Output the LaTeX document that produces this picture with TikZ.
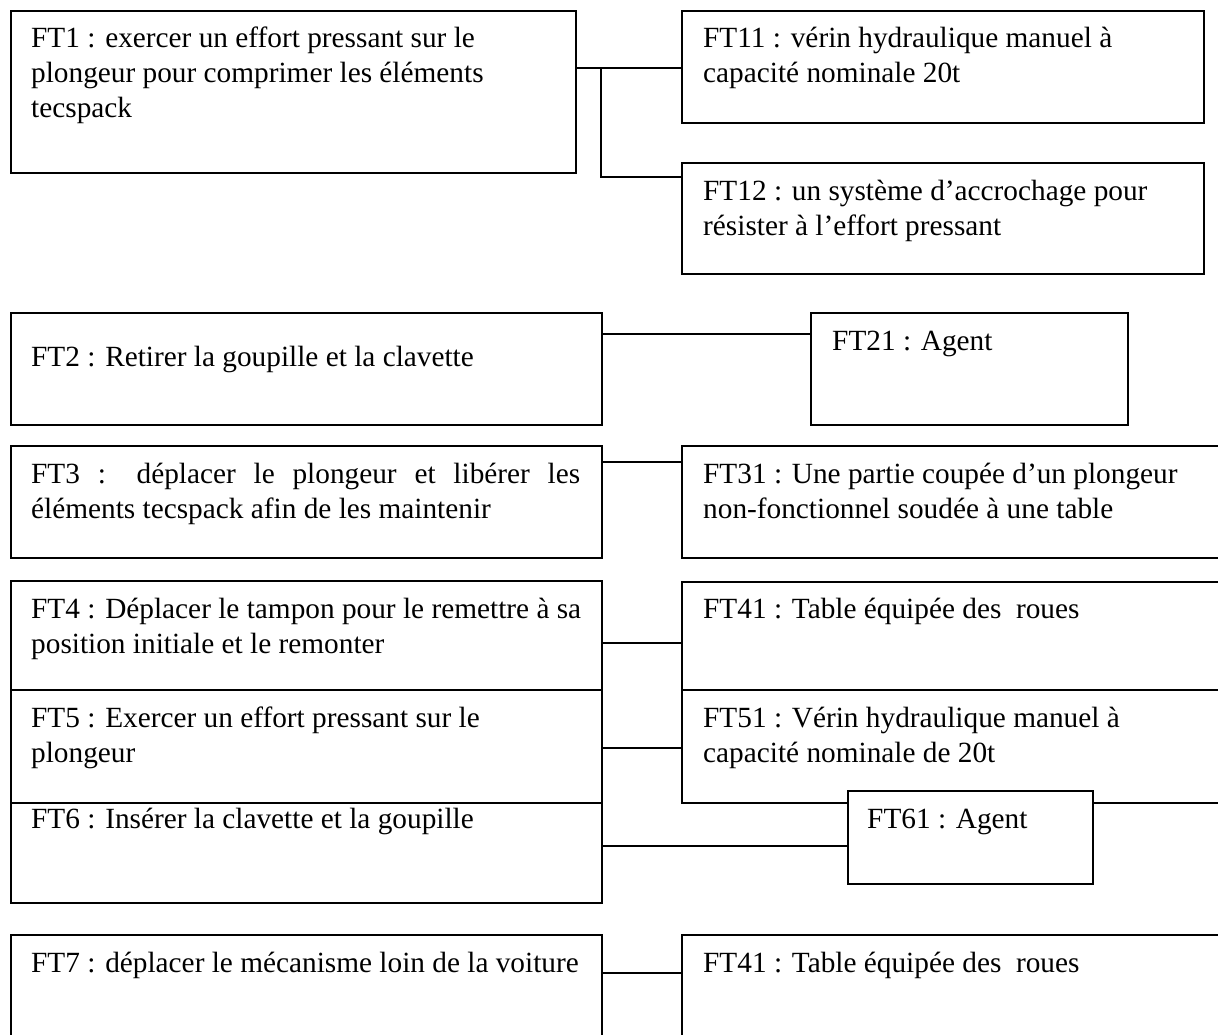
\documentclass[tikz,border=0pt]{standalone}
\usepackage{fontspec}
\setmainfont{Liberation Serif}
\begin{document}
\begin{tikzpicture}[x=1pt,y=-1pt,
  box/.style={draw, line width=1.7pt, rectangle, inner sep=0pt, anchor=north west, fill=white},
  txt/.style={anchor=base west, inner sep=0pt, font=\fontsize{29.3}{35}\selectfont},
  link/.style={line width=1.4pt}]
\useasboundingbox (0,0) rectangle (1218,1034);
\begin{scope}
\clip (0,0) rectangle (1218,1034);

% --- left column: functions ---
\node[box, minimum width=565pt, minimum height=162pt] (ft1) at (10,10) {};
\node[box, minimum width=591pt, minimum height=112pt] (ft2) at (10,312) {};
\node[box, minimum width=591pt, minimum height=112pt] (ft3) at (10,445) {};
\node[box, minimum width=591pt, minimum height=109pt] (ft4) at (10,580) {};
\node[box, minimum width=591pt, minimum height=113pt] (ft5) at (10,689) {};
\node[box, minimum width=591pt, minimum height=100pt] (ft6) at (10,802) {};
\node[box, minimum width=591pt, minimum height=140pt] (ft7) at (10,934) {};

% --- right column: solutions ---
\node[box, minimum width=522pt, minimum height=112pt] (ft11) at (681,10) {};
\node[box, minimum width=522pt, minimum height=111pt] (ft12) at (681,162) {};
\node[box, minimum width=317pt, minimum height=112pt] (ft21) at (810,312) {};
\node[box, minimum width=560pt, minimum height=112pt] (ft31) at (681,445) {};
\node[box, minimum width=560pt, minimum height=108pt] (ft41) at (681,581) {};
\node[box, minimum width=560pt, minimum height=113pt] (ft51) at (681,689) {};
\node[box, minimum width=245pt, minimum height=93pt] (ft61) at (847,790) {};
\node[box, minimum width=560pt, minimum height=140pt] (ft41b) at (681,934) {};

% --- connectors ---
\draw[link] (ft1.east |- 0,68) -- (ft11.west |- 0,68);
\coordinate (split) at (601,68);
\draw[link] (split) |- (ft12.west |- 0,177);
\draw[link] (ft2.east |- 0,334) -- (ft21.west |- 0,334);
\draw[link] (ft3.east |- 0,462) -- (ft31.west |- 0,462);
\draw[link] (ft4.east |- 0,643) -- (ft41.west |- 0,643);
\draw[link] (ft5.east |- 0,748) -- (ft51.west |- 0,748);
\draw[link] (ft6.east |- 0,846) -- (ft61.west |- 0,846);
\draw[link] (ft7.east |- 0,973) -- (ft41b.west |- 0,973);

% --- texts ---
\node[txt] (t1) at (31,47) {\parbox[t]{560pt}{FT1 : exercer un effort pressant sur le\\plongeur pour comprimer les éléments\\tecspack}};
\node[txt] (t2) at (31,366) {\parbox[t]{560pt}{FT2 : Retirer la goupille et la clavette}};
\node[txt] (t3) at (31,483) {\parbox[t]{549pt}{FT3 : déplacer le plongeur et libérer les\linebreak éléments tecspack afin de les maintenir}};
\node[txt] (t4) at (31,618) {\parbox[t]{560pt}{FT4 : Déplacer le tampon pour le remettre à sa\\position initiale et le remonter}};
\node[txt] (t5) at (31,727) {\parbox[t]{560pt}{FT5 : Exercer un effort pressant sur le\\plongeur}};
\node[txt] (t6) at (31,828) {\parbox[t]{560pt}{FT6 : Insérer la clavette et la goupille}};
\node[txt] (t7) at (31,972) {\parbox[t]{560pt}{FT7 : déplacer le mécanisme loin de la voiture}};

\node[txt] (t11) at (703,47) {\parbox[t]{500pt}{FT11 : vérin hydraulique manuel à\\capacité nominale 20t}};
\node[txt] (t12) at (703,200) {\parbox[t]{500pt}{FT12 : un système d’accrochage pour\\résister à l’effort pressant}};
\node[txt] (t21) at (832,350) {FT21 : Agent};
\node[txt] (t31) at (703,483) {\parbox[t]{520pt}{FT31 : Une partie coupée d’un plongeur\\non-fonctionnel soudée à une table}};
\node[txt] (t41) at (703,618) {FT41 : Table équipée des \ roues};
\node[txt] (t51) at (703,727) {\parbox[t]{520pt}{FT51 : Vérin hydraulique manuel à\\capacité nominale de 20t}};
\node[txt] (t61) at (867,828) {FT61 : Agent};
\node[txt] (t41b) at (703,972) {FT41 : Table équipée des \ roues};
\end{scope}
\end{tikzpicture}
\end{document}
